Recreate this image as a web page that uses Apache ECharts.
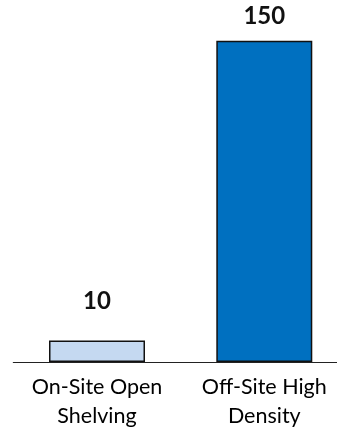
<!DOCTYPE html>
<html>
<head>
<meta charset="utf-8">
<script src="https://cdn.jsdelivr.net/npm/echarts@6/dist/echarts.min.js"></script>
<style>
  html, body { margin: 0; padding: 0; background: #fff; }
  #chart { width: 337px; height: 427px; }
</style>
</head>
<body>
<div id="chart"></div>
<script>
// Storage capacity by shelving type
const categories = ['On-Site Open\nShelving', 'Off-Site High\nDensity'];
const values = [10, 150];
const barColors = ['#c5d9f1', '#0070c0'];
const labelGaps = [27, 12];

const chart = echarts.init(document.getElementById('chart'), null, { renderer: 'canvas' });

const fontFamily = 'Lato, "Open Sans", sans-serif';

chart.setOption({
  animation: false,
  backgroundColor: '#ffffff',
  grid: {
    left: 13.35, width: 334.6, top: 40.7, height: 321.3,
    containLabel: false, outerBoundsMode: 'none'
  },
  xAxis: {
    type: 'category',
    data: categories,
    axisLine: { show: true, lineStyle: { color: '#222', width: 1.2 } },
    axisTick: { show: false },
    axisLabel: {
      interval: 0,
      color: '#000',
      fontFamily: fontFamily,
      fontSize: 21.5,
      lineHeight: 28.5,
      margin: 11
    }
  },
  yAxis: {
    type: 'value',
    min: 0,
    max: 150,
    show: false,
    splitLine: { show: false }
  },
  series: [{
    type: 'bar',
    barWidth: 96,
    data: values.map((v, i) => ({
      value: v,
      itemStyle: { color: barColors[i], borderColor: '#111', borderWidth: 1.5 },
      label: { distance: labelGaps[i] }
    })),
    label: {
      show: true,
      position: 'top',
      color: '#111',
      fontFamily: fontFamily,
      fontWeight: 'bold',
      fontSize: 24
    }
  }]
});
</script>
</body>
</html>
